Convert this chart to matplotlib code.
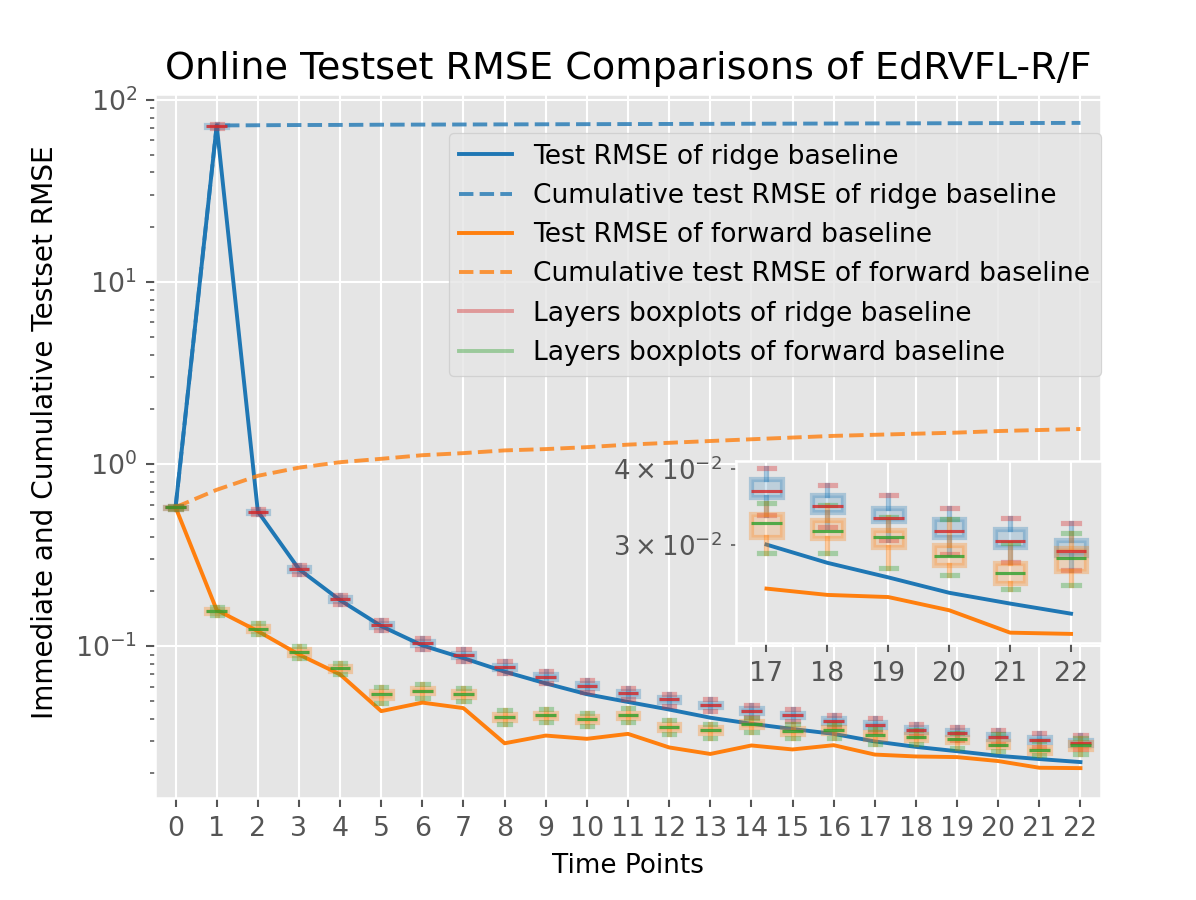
import numpy as np
import matplotlib.pyplot as plt
from matplotlib.lines import Line2D

plt.style.use('ggplot')

# time points
t = list(range(23))

# test RMSE per time point
ridge_rmse = [0.58, 72.5, 0.55, 0.265, 0.179, 0.129, 0.101, 0.086, 0.0725, 0.0625, 0.0545, 0.0494,
              0.0449, 0.0405, 0.0375, 0.0351, 0.0330, 0.0300, 0.0280, 0.0265, 0.0250, 0.0240, 0.0231]
forward_rmse = [0.58, 0.158, 0.121, 0.090, 0.070, 0.044, 0.049, 0.0457, 0.0293, 0.0323, 0.0310, 0.0330,
                0.0278, 0.0256, 0.0285, 0.0271, 0.0286, 0.0254, 0.0248, 0.0246, 0.0234, 0.0215, 0.0214]

# cumulative test RMSE
ridge_cum = [0.58, 72.5, 72.7, 72.9, 73.0, 73.2, 73.3, 73.4, 73.5, 73.6, 73.7, 73.8,
             73.9, 74.0, 74.1, 74.2, 74.3, 74.4, 74.5, 74.6, 74.7, 74.8, 74.9]
forward_cum = [0.58, 0.723, 0.863, 0.957, 1.025, 1.07, 1.12, 1.15, 1.19, 1.21, 1.24, 1.28,
               1.31, 1.34, 1.37, 1.40, 1.43, 1.45, 1.47, 1.49, 1.52, 1.54, 1.56]

# layer boxplot summaries (ridge)
ridge_lo = [0.57, 70.5, 0.53, 0.250, 0.171, 0.122, 0.097, 0.083, 0.0715, 0.063, 0.056, 0.051,
            0.0472, 0.0438, 0.0408, 0.0386, 0.0358, 0.0336, 0.0321, 0.0305, 0.0290, 0.0281, 0.0273]
ridge_q1 = [0.575, 71.5, 0.54, 0.258, 0.177, 0.127, 0.101, 0.087, 0.0748, 0.066, 0.059, 0.0535,
            0.0496, 0.0461, 0.0429, 0.0406, 0.0378, 0.0359, 0.0339, 0.0328, 0.0309, 0.0297, 0.0288]
ridge_med = [0.58, 72.3, 0.547, 0.264, 0.181, 0.130, 0.1035, 0.0893, 0.0769, 0.0678, 0.0605, 0.0550,
             0.0510, 0.0474, 0.0441, 0.0418, 0.0389, 0.0367, 0.0347, 0.0332, 0.0316, 0.0304, 0.0293]
ridge_q3 = [0.585, 73.0, 0.555, 0.271, 0.186, 0.134, 0.107, 0.092, 0.0793, 0.070, 0.0625, 0.0568,
            0.0527, 0.049, 0.0456, 0.0432, 0.0402, 0.0385, 0.03615, 0.0345, 0.0330, 0.0318, 0.0305]
ridge_hi = [0.59, 74.0, 0.565, 0.280, 0.192, 0.139, 0.111, 0.096, 0.0825, 0.073, 0.065, 0.059,
            0.0548, 0.051, 0.0475, 0.045, 0.0418, 0.0401, 0.0376, 0.0362, 0.0345, 0.0332, 0.0325]

# layer boxplot summaries (forward)
fwd_lo = [0.57, 0.148, 0.116, 0.086, 0.070, 0.049, 0.052, 0.050, 0.0375, 0.0383, 0.0365, 0.0383,
          0.0328, 0.0313, 0.0340, 0.0312, 0.0312, 0.0291, 0.0291, 0.0275, 0.0267, 0.0254, 0.0257]
fwd_q1 = [0.575, 0.153, 0.121, 0.090, 0.073, 0.052, 0.055, 0.0525, 0.0395, 0.0404, 0.0385, 0.0404,
          0.0347, 0.0333, 0.0360, 0.0331, 0.0332, 0.0309, 0.0307, 0.0297, 0.0278, 0.0259, 0.0271]
fwd_med = [0.58, 0.156, 0.125, 0.093, 0.0755, 0.0545, 0.0570, 0.0545, 0.0409, 0.0418, 0.0399, 0.0418,
           0.0360, 0.0345, 0.0373, 0.0343, 0.0345, 0.0325, 0.0316, 0.0309, 0.0287, 0.0269, 0.0285]
fwd_q3 = [0.585, 0.160, 0.129, 0.096, 0.078, 0.057, 0.059, 0.0565, 0.0424, 0.0432, 0.0413, 0.0432,
          0.0372, 0.0358, 0.0386, 0.0355, 0.0358, 0.0337, 0.0329, 0.0317, 0.0300, 0.0280, 0.0296]
fwd_hi = [0.59, 0.165, 0.134, 0.100, 0.081, 0.060, 0.062, 0.059, 0.0445, 0.0452, 0.0432, 0.0455,
          0.0392, 0.0376, 0.0405, 0.0373, 0.0376, 0.0351, 0.0348, 0.0333, 0.0330, 0.0302, 0.0313]


def make_stats(lo, q1, med, q3, hi):
    return [dict(whislo=a, q1=b, med=c, q3=d, whishi=e, fliers=[])
            for a, b, c, d, e in zip(lo, q1, med, q3, hi)]


ridge_stats = make_stats(ridge_lo, ridge_q1, ridge_med, ridge_q3, ridge_hi)
fwd_stats = make_stats(fwd_lo, fwd_q1, fwd_med, fwd_q3, fwd_hi)

blue = '#1f77b4'
orange = '#ff7f0e'
red = '#d62728'
green = '#2ca02c'


def draw_all(ax, start=0):
    s = slice(start, None)
    ax.plot(t[s], ridge_rmse[s], color=blue, lw=1.5)
    ax.plot(t[s], ridge_cum[s], color=blue, lw=1.5, ls='--', alpha=0.8)
    ax.plot(t[s], forward_rmse[s], color=orange, lw=1.5)
    ax.plot(t[s], forward_cum[s], color=orange, lw=1.5, ls='--', alpha=0.8)
    ax.bxp(ridge_stats[s], positions=t[s], widths=0.5, patch_artist=True, showfliers=False,
           boxprops=dict(facecolor=(0.12, 0.47, 0.71, 0.2), edgecolor=(0.12, 0.47, 0.71, 0.3), linewidth=2),
           whiskerprops=dict(color=blue, alpha=0.4, linewidth=2),
           capprops=dict(color=red, alpha=0.35, linewidth=2),
           medianprops=dict(color=red, alpha=0.8, linewidth=1.2))
    ax.bxp(fwd_stats[s], positions=t[s], widths=0.5, patch_artist=True, showfliers=False,
           boxprops=dict(facecolor=(1.0, 0.5, 0.05, 0.2), edgecolor=(1.0, 0.5, 0.05, 0.3), linewidth=2),
           whiskerprops=dict(color=orange, alpha=0.4, linewidth=2),
           capprops=dict(color=green, alpha=0.35, linewidth=2),
           medianprops=dict(color=green, alpha=0.8, linewidth=1.2))


fig = plt.figure(figsize=(1196 / 187, 900 / 187), dpi=187)
ax = fig.add_axes([0.1296, 0.1133, 0.7910, 0.7819])
draw_all(ax)
ax.set_yscale('log')
ax.set_xlim(-0.5, 22.5)
ax.set_ylim(0.01466, 107.5)
ax.set_xticks(t)
ax.set_xticklabels([str(i) for i in t])
ax.tick_params(labelsize=10.3)
ax.set_title('Online Testset RMSE Comparisons of EdRVFL-R/F', fontsize=14.7, color='black')
ax.set_xlabel('Time Points', fontsize=10.1, color='black')
ax.set_ylabel('Immediate and Cumulative Testset RMSE', fontsize=10.8, color='black')
ax.yaxis.set_label_coords(-0.102, 0.52)

handles = [
    Line2D([], [], color=blue, lw=1.5),
    Line2D([], [], color=blue, lw=1.5, ls='--', alpha=0.8),
    Line2D([], [], color=orange, lw=1.5),
    Line2D([], [], color=orange, lw=1.5, ls='--', alpha=0.8),
    Line2D([], [], color=red, lw=1.5, alpha=0.4),
    Line2D([], [], color=green, lw=1.5, alpha=0.4),
]
labels = ['Test RMSE of ridge baseline', 'Cumulative test RMSE of ridge baseline',
          'Test RMSE of forward baseline', 'Cumulative test RMSE of forward baseline',
          'Layers boxplots of ridge baseline', 'Layers boxplots of forward baseline']
ax.legend(handles, labels, loc='upper right', bbox_to_anchor=(1.0, 0.945), borderaxespad=0,
          fontsize=10.2)

# zoomed inset for the last time points
axins = fig.add_axes([0.6154, 0.2859, 0.3056, 0.2022])
draw_all(axins, start=17)
axins.set_yscale('log')
axins.set_xlim(16.5, 22.5)
axins.set_ylim(0.0207, 0.0412)
axins.set_xticks(t[17:])
axins.set_xticklabels([str(i) for i in t[17:]])
axins.tick_params(labelsize=10.3)

fig.savefig('out.png', dpi=187)
